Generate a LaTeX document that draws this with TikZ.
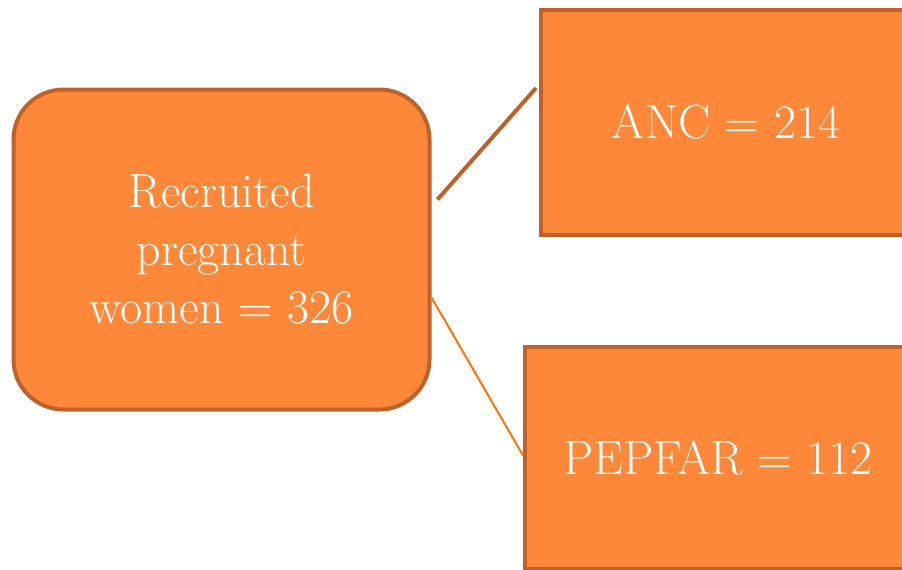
\documentclass[tikz,border=0pt]{standalone}
\usepackage{fontspec}

\definecolor{boxfill}{HTML}{FD8839}
\definecolor{boxedge}{HTML}{BF6229}
\definecolor{thinline}{HTML}{FF7406}

\tikzset{
  stage/.style={
    draw=boxedge,
    fill=boxfill,
    line width=4pt,
    text=white,
    align=center,
    inner sep=0pt,
    font=\fontsize{48}{58}\selectfont
  }
}

\begin{document}
\begin{tikzpicture}[x=1pt, y=-1pt]
  \useasboundingbox (0,0) rectangle (902,570);

  \node[stage, rounded corners=50pt, minimum width=416pt, minimum height=320pt]
    (recruit) at (221.5,249.5) {Recruited\\pregnant\\women = 326};

  \node[stage, minimum width=370pt, minimum height=225pt]
    (anc) at (726,122) {ANC = 214};
  \node[stage, minimum width=386pt, minimum height=222pt]
    (pepfar) at (718,457.5) {PEPFAR = 112};

  \draw[boxedge, line width=4pt] ([shift={(6pt,50pt)}]recruit.east)
    -- ([shift={(-3pt,34pt)}]anc.west);
  \draw[thinline, line width=2pt] ([yshift=-48pt]recruit.east)
    -- ([yshift=2pt]pepfar.west);
\end{tikzpicture}
\end{document}
